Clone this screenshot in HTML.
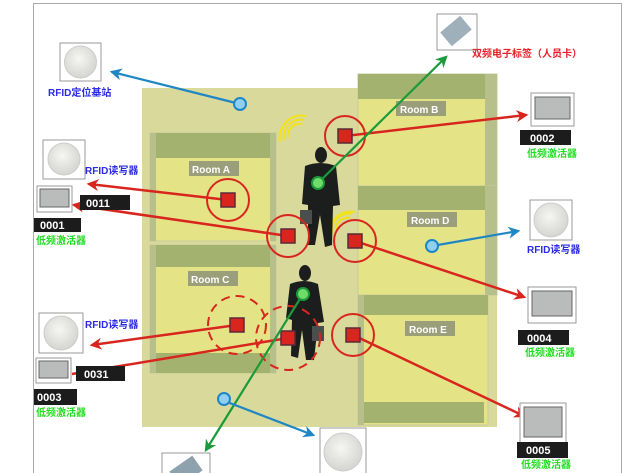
<!DOCTYPE html>
<html><head><meta charset="utf-8"><style>
html,body{margin:0;padding:0;background:#fff;}
svg{display:block}
text{font-family:"Liberation Sans","Noto Sans CJK SC",sans-serif;font-weight:bold}
</style></head><body>
<svg width="640" height="473" viewBox="0 0 640 473" xmlns="http://www.w3.org/2000/svg">
<defs>
<marker id="ar" markerWidth="8" markerHeight="8" refX="6" refY="4" orient="auto" markerUnits="userSpaceOnUse"><path d="M0,0 L8,4 L0,8 L2,4z" fill="#d8261e"/></marker>
<marker id="ar2" viewBox="0 0 10 10" markerWidth="14" markerHeight="12" refX="8" refY="5" orient="auto" markerUnits="userSpaceOnUse"><path d="M0,0 L10,5 L0,10 L3,5z" fill="#d8261e"/></marker>
<marker id="ag" viewBox="0 0 10 10" markerWidth="14" markerHeight="12" refX="8" refY="5" orient="auto" markerUnits="userSpaceOnUse"><path d="M0,0 L10,5 L0,10 L3,5z" fill="#1a9a3a"/></marker>
<marker id="ab" viewBox="0 0 10 10" markerWidth="14" markerHeight="12" refX="8" refY="5" orient="auto" markerUnits="userSpaceOnUse"><path d="M0,0 L10,5 L0,10 L3,5z" fill="#1f86c6"/></marker>
<radialGradient id="rd" cx="45%" cy="40%" r="60%"><stop offset="0" stop-color="#f6f6f4"/><stop offset="1" stop-color="#d4d4d0"/></radialGradient>
</defs>
<rect x="33.5" y="3.5" width="588" height="480" fill="#fff" stroke="#aaa"/>
<!-- floor -->
<rect x="142" y="88" width="355" height="339" fill="#d9d99c"/>
<!-- Room A -->
<rect x="150" y="133" width="126" height="108" fill="#e4e487" stroke="#c8cc9c"/>
<rect x="150" y="133" width="126" height="25" fill="#a3b26e"/>
<rect x="150" y="133" width="6" height="108" fill="#b7c08a"/>
<rect x="270" y="133" width="6" height="108" fill="#b7c08a"/>
<!-- Room C -->
<rect x="150" y="245" width="126" height="128" fill="#e4e487" stroke="#c8cc9c"/>
<rect x="150" y="245" width="126" height="22" fill="#a3b26e"/>
<rect x="156" y="353" width="114" height="20" fill="#a3b26e"/>
<rect x="150" y="245" width="6" height="128" fill="#b7c08a"/>
<rect x="270" y="245" width="6" height="128" fill="#b7c08a"/>
<!-- Room B -->
<rect x="358" y="74" width="139" height="116" fill="#e4e487" stroke="#c8cc9c"/>
<rect x="358" y="74" width="139" height="25" fill="#a3b26e"/>
<rect x="485" y="74" width="12" height="116" fill="#b7c08a"/>
<!-- Room D -->
<rect x="358" y="186" width="139" height="109" fill="#e4e487" stroke="#c8cc9c"/>
<rect x="358" y="186" width="139" height="24" fill="#a3b26e"/>
<rect x="485" y="186" width="12" height="109" fill="#b7c08a"/>
<!-- Room E -->
<rect x="358" y="295" width="130" height="130" fill="#e4e487" stroke="#c8cc9c"/>
<rect x="358" y="295" width="130" height="20" fill="#a3b26e"/>
<rect x="362" y="402" width="122" height="21" fill="#a3b26e"/>
<rect x="358" y="295" width="6" height="130" fill="#b7c08a"/>
<!-- room labels -->
<g fill="#fff" font-size="10">
<rect x="189" y="161" width="50" height="15" fill="#9a9f7a"/><text x="192" y="173">Room A</text>
<rect x="188" y="271" width="50" height="15" fill="#9a9f7a"/><text x="191" y="283">Room C</text>
<rect x="396" y="101" width="50" height="15" fill="#9a9f7a"/><text x="400" y="113">Room B</text>
<rect x="407" y="212" width="50" height="15" fill="#9a9f7a"/><text x="411" y="224">Room D</text>
<rect x="405" y="321" width="50" height="15" fill="#9a9f7a"/><text x="409" y="333">Room E</text>
</g>
<!-- signal arcs -->
<g fill="none" stroke="#f2e21a" stroke-width="2">
<path d="M288,138 a12,12 0 0 1 14,-14"/><path d="M284,140 a17,17 0 0 1 20,-20"/><path d="M280,142 a22,22 0 0 1 26,-26"/>
<path d="M336,232 a12,12 0 0 1 14,-14"/><path d="M332,234 a17,17 0 0 1 20,-20"/><path d="M329,236 a22,22 0 0 1 26,-24"/>
</g>
<!-- people -->
<g fill="#1b1e1c">
<ellipse cx="321" cy="155" rx="6" ry="8"/>
<path d="M305,166 Q320,160 336,166 L340,205 L333,206 L332,245 L325,247 L320,215 L315,245 L308,245 L308,205 L302,204z"/>
<rect x="300" y="210" width="12" height="14" fill="#4a4e4c"/>
<ellipse cx="305" cy="273" rx="6" ry="8"/>
<path d="M290,284 Q304,278 318,284 L324,322 L318,323 L314,360 L306,360 L302,330 L298,358 L291,356 L292,320 L286,318z"/>
<rect x="312" y="326" width="12" height="15" fill="#4a4e4c"/>
</g>
<!-- circles -->
<g fill="none" stroke="#d8261e" stroke-width="2">
<circle cx="345" cy="136" r="20"/>
<circle cx="228" cy="200" r="21"/>
<circle cx="288" cy="236" r="21"/>
<circle cx="355" cy="241" r="21"/>
<circle cx="353" cy="335" r="21"/>
<circle cx="237" cy="325" r="29" stroke-dasharray="9,6"/>
<circle cx="288" cy="338" r="32" stroke-dasharray="9,6"/>
</g>
<!-- red arrows -->
<g stroke="#d8261e" stroke-width="2.5" fill="none">
<line x1="345" y1="136" x2="526" y2="115" marker-end="url(#ar2)"/>
<line x1="228" y1="200" x2="89" y2="184" marker-end="url(#ar2)"/>
<line x1="288" y1="236" x2="74" y2="205" marker-end="url(#ar2)"/>
<line x1="355" y1="241" x2="524" y2="297" marker-end="url(#ar2)"/>
<line x1="237" y1="325" x2="92" y2="345" marker-end="url(#ar2)"/>
<line x1="288" y1="338" x2="72" y2="374"/>
<line x1="353" y1="335" x2="524" y2="416" marker-end="url(#ar2)"/>
</g>
<g fill="#d8261e" stroke="#5a2a3a" stroke-width="1.5">
<rect x="338" y="129" width="14" height="14"/>
<rect x="221" y="193" width="14" height="14"/>
<rect x="281" y="229" width="14" height="14"/>
<rect x="348" y="234" width="14" height="14"/>
<rect x="346" y="328" width="14" height="14"/>
<rect x="230" y="318" width="14" height="14"/>
<rect x="281" y="331" width="14" height="14"/>
</g>
<!-- green lines -->
<g stroke="#1a9a3a" stroke-width="2.2">
<line x1="318" y1="183" x2="446" y2="57" marker-end="url(#ag)"/>
<line x1="303" y1="294" x2="206" y2="450" marker-end="url(#ag)"/>
</g>
<circle cx="318" cy="183" r="6" fill="#6fdc6a" stroke="#1a9a3a" stroke-width="2"/>
<circle cx="303" cy="294" r="6" fill="#6fdc6a" stroke="#1a9a3a" stroke-width="2"/>
<!-- blue lines -->
<g stroke="#1f86c6" stroke-width="2.2">
<line x1="240" y1="104" x2="112" y2="72" marker-end="url(#ab)"/>
<line x1="432" y1="246" x2="518" y2="231" marker-end="url(#ab)"/>
<line x1="222" y1="400" x2="313" y2="435" marker-end="url(#ab)"/>
</g>
<g fill="#8fd0f2" stroke="#1f86c6" stroke-width="2">
<circle cx="240" cy="104" r="6"/><circle cx="432" cy="246" r="6"/><circle cx="224" cy="399" r="6"/>
</g>
<!-- readers -->
<g>
<rect x="60" y="43" width="41" height="38" fill="#fff" stroke="#999"/><circle cx="80.5" cy="62" r="16" fill="url(#rd)" stroke="#ccc"/>
<rect x="43" y="140" width="42" height="39" fill="#fff" stroke="#999"/><circle cx="64" cy="159" r="16" fill="url(#rd)" stroke="#ccc"/>
<rect x="39" y="313" width="44" height="40" fill="#fff" stroke="#999"/><circle cx="61" cy="333" r="17" fill="url(#rd)" stroke="#ccc"/>
<rect x="530" y="200" width="42" height="40" fill="#fff" stroke="#999"/><circle cx="551" cy="220" r="17" fill="url(#rd)" stroke="#ccc"/>
<rect x="320" y="428" width="46" height="48" fill="#fff" stroke="#999"/><circle cx="343" cy="452" r="19" fill="url(#rd)" stroke="#ccc"/>
</g>
<!-- tags -->
<rect x="437" y="14" width="40" height="36" fill="#fff" stroke="#999"/>
<rect x="443" y="22" width="26" height="18" fill="#9fb0bb" transform="rotate(-40 456 31)"/>
<rect x="162" y="453" width="48" height="30" fill="#fff" stroke="#999"/>
<rect x="172" y="462" width="28" height="18" fill="#8ea2ae" transform="rotate(-35 186 471)"/>
<!-- activators -->
<g fill="#b9bcbb" stroke="#666">
<rect x="37" y="186" width="35" height="26" fill="#fff" stroke="#999"/><rect x="40" y="189" width="29" height="18"/>
<rect x="36" y="358" width="35" height="25" fill="#fff" stroke="#999"/><rect x="39" y="361" width="29" height="17"/>
<rect x="531" y="93" width="43" height="33" fill="#fff" stroke="#999"/><rect x="535" y="97" width="35" height="22"/>
<rect x="528" y="287" width="48" height="36" fill="#fff" stroke="#999"/><rect x="532" y="291" width="40" height="25"/>
<rect x="520" y="403" width="46" height="43" fill="#fff" stroke="#999"/><rect x="524" y="407" width="38" height="30"/>
</g>
<!-- id labels -->
<g font-size="11" fill="#fff">
<rect x="80" y="195" width="50" height="15" fill="#1c1c1c"/><text x="86" y="207">0011</text>
<rect x="34" y="218" width="47" height="14" fill="#1c1c1c"/><text x="40" y="229">0001</text>
<rect x="76" y="366" width="49" height="15" fill="#1c1c1c"/><text x="84" y="378">0031</text>
<rect x="34" y="389" width="43" height="16" fill="#1c1c1c"/><text x="37" y="401">0003</text>
<rect x="520" y="130" width="51" height="15" fill="#1c1c1c"/><text x="530" y="142">0002</text>
<rect x="518" y="330" width="51" height="15" fill="#1c1c1c"/><text x="527" y="342">0004</text>
<rect x="517" y="442" width="51" height="16" fill="#1c1c1c"/><text x="526" y="454">0005</text>
</g>
<!-- text labels -->
<g font-size="10">
<text x="48" y="96" fill="#2a2ae6">RFID定位基站</text>
<text x="85" y="174" fill="#2a2ae6">RFID读写器</text>
<text x="85" y="328" fill="#2a2ae6">RFID读写器</text>
<text x="527" y="253" fill="#2a2ae6">RFID读写器</text>
<text x="472" y="57" fill="#e8202a">双频电子标签（人员卡）</text>
<text x="36" y="244" fill="#22dd22">低频激活器</text>
<text x="36" y="416" fill="#22dd22">低频激活器</text>
<text x="527" y="157" fill="#22dd22">低频激活器</text>
<text x="525" y="356" fill="#22dd22">低频激活器</text>
<text x="521" y="468" fill="#22dd22">低频激活器</text>
</g>
</svg>
</body></html>
